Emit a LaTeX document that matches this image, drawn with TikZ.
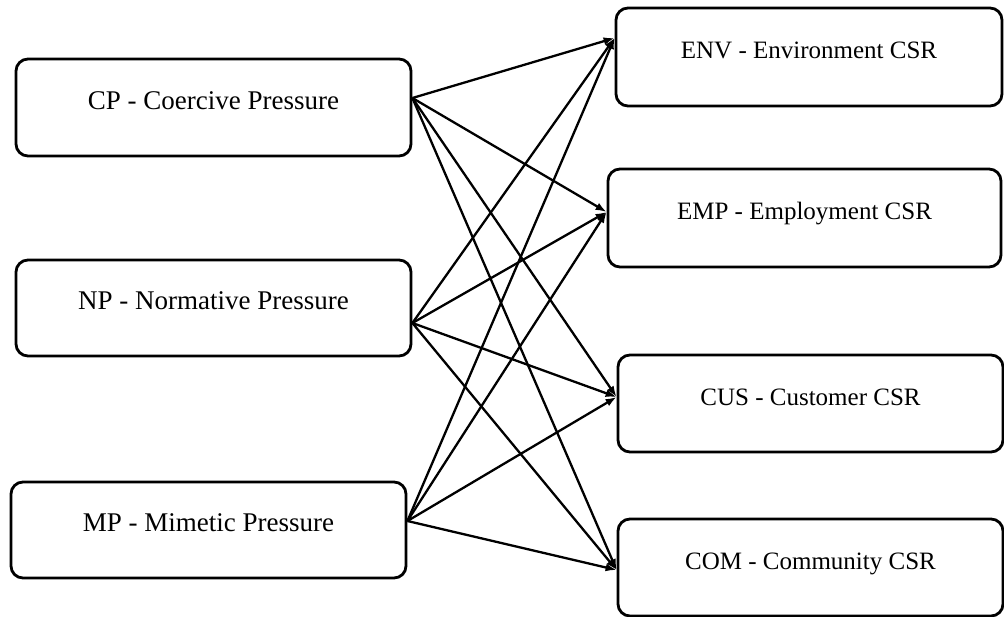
\documentclass[tikz,border=0pt]{standalone}
\usepackage{fontspec}
\setmainfont{Liberation Serif}
\usetikzlibrary{arrows.meta}
\begin{document}
\begin{tikzpicture}[x=1pt,y=-1pt,
 box/.style={draw, line width=2.8pt, rounded corners=12pt, inner sep=0pt, text height=12pt, text depth=9pt, align=center},
 lbox/.style={box, minimum width=395pt, font=\fontsize{27}{30}\selectfont},
 rbox/.style={box, font=\fontsize{25}{28}\selectfont},
 conn/.style={line width=2.3pt, -{Latex[length=11pt,width=8pt]}}]
\useasboundingbox (0,0) rectangle (1004,616);
% left boxes
\node[lbox, minimum height=97pt] (cp) at (213.5,107.5) {CP - Coercive Pressure};
\node[lbox, minimum height=96pt] (np) at (213.5,308) {NP - Normative Pressure};
\node[lbox, minimum height=96pt] (mp) at (208.5,530) {MP - Mimetic Pressure};
% right boxes
\node[rbox, minimum width=386pt, minimum height=98pt] (env) at (809,57) {ENV - Environment CSR};
\node[rbox, minimum width=393pt, minimum height=98pt] (emp) at (804.5,218) {EMP - Employment CSR};
\node[rbox, minimum width=385pt, minimum height=97pt] (cus) at (810.5,403.5) {CUS - Customer CSR};
\node[rbox, minimum width=385pt, minimum height=97pt] (com) at (810.5,567.5) {COM - Community CSR};
% connector ends
\coordinate (cpo) at ([yshift=9.5pt]cp.east);
\coordinate (npo) at ([yshift=-15pt]np.east);
\coordinate (mpo) at ([yshift=9pt]mp.east);
\coordinate (envi) at ([yshift=19pt]env.west);
\coordinate (empi) at ([yshift=6pt]emp.west);
\coordinate (cusi) at ([yshift=6.5pt]cus.west);
\coordinate (comi) at ([yshift=-2.5pt]com.west);
% connectors
\foreach \s in {cpo,npo,mpo}{
  \foreach \t in {envi,empi,cusi,comi}{
    \draw[conn] (\s) -- (\t);
  }
}
\end{tikzpicture}
\end{document}
